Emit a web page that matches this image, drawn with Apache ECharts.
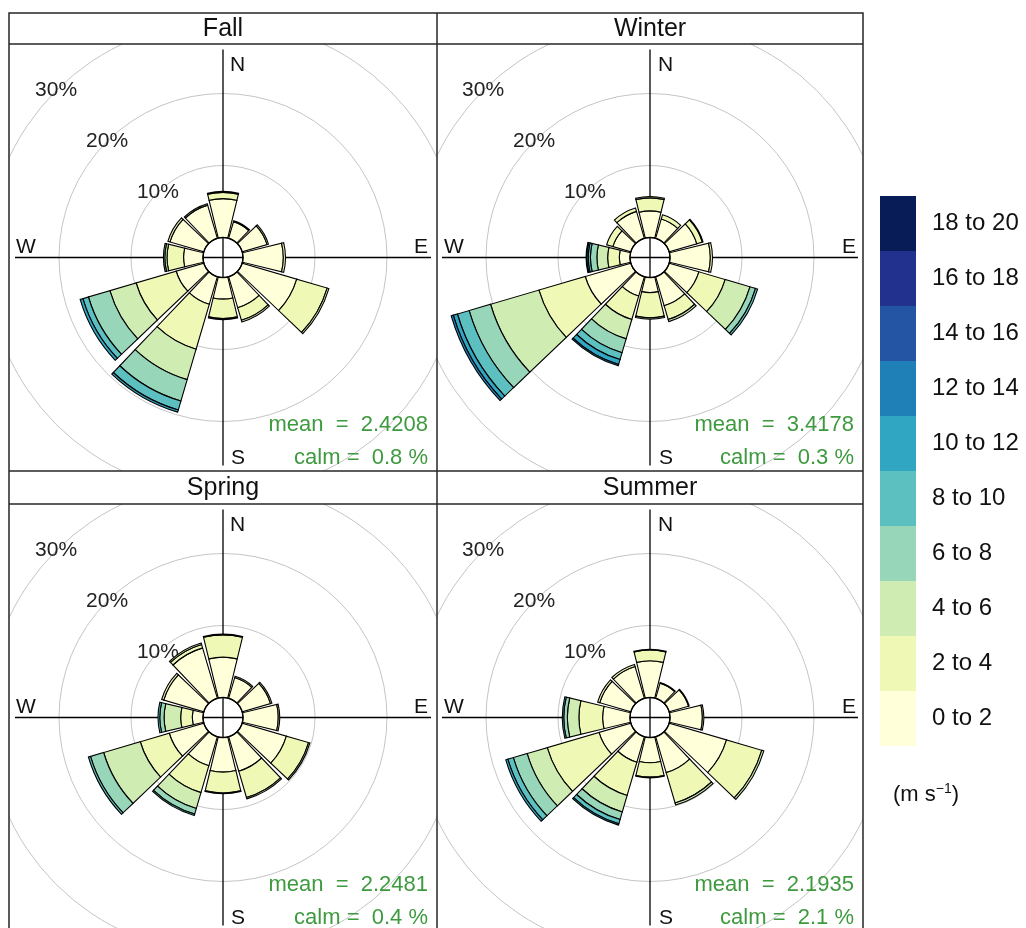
<!DOCTYPE html>
<html>
<head>
<meta charset="utf-8">
<script src="https://cdn.jsdelivr.net/npm/echarts@6/dist/echarts.min.js"></script>
<style>
  html, body { margin: 0; padding: 0; background: #fff; width: 1026px; height: 928px; overflow: hidden; }
  .pane { position: absolute; }
  #frame { left: 0; top: 0; width: 1026px; height: 928px; z-index: 5; pointer-events: none; }
</style>
</head>
<body>
<div id="p0" class="pane" style="left:9px;top:44px;width:428px;height:427px"></div>
<div id="p1" class="pane" style="left:437px;top:44px;width:426px;height:427px"></div>
<div id="p2" class="pane" style="left:9px;top:504px;width:428px;height:427px"></div>
<div id="p3" class="pane" style="left:437px;top:504px;width:426px;height:427px"></div>
<div id="frame" class="pane"></div>
<script>
// Wind direction sectors (degrees clockwise from north), 30° each
const DIRECTIONS = ['0', '30', '60', '90', '120', '150', '180', '210', '240', '270', '300', '330'];
// Wind speed classes (m/s)
const SPEED_BINS = ['0 to 2', '2 to 4', '4 to 6', '6 to 8', '8 to 10',
                    '10 to 12', '12 to 14', '14 to 16', '16 to 18', '18 to 20'];
// YlGnBu ramp, one colour per speed class
const BIN_COLORS = ['#FFFFD9', '#EFF9B5', '#CFECB3', '#97D6B9', '#5DC0C0',
                    '#31A6C2', '#1F80B8', '#2355A4', '#22318D', '#081D58'];
// Percentage ticks on the frequency circles
const RADIAL_TICKS = [10, 20, 30];

const SEASONS = ['Fall', 'Winter', 'Spring', 'Summer'];
const MEANS = ['2.4208', '3.4178', '2.2481', '2.1935'];
const CALMS = ['0.8', '0.3', '0.4', '2.1'];

// Frequency (%) per direction sector, split by speed class (0-2, 2-4, 4-6, ...)
const fallRose = [
  [5.4, 0.85, 0.15],
  [2.4, 0.15],
  [3.6, 0.2],
  [5.6, 0.3],
  [7.9, 4.4, 0.25],
  [4.5, 1.8, 0.25],
  [3.0, 2.7, 0.15],
  [4.0, 6.5, 4.4, 3.1, 1.3, 0.3],
  [4.0, 5.8, 3.8, 3.1, 0.8, 0.4],
  [2.7, 2.3, 0.3, 0.2],
  [4.9, 0.3],
  [4.8, 0.2]
];
const winterRose = [
  [3.7, 1.8, 0.2],
  [2.8, 0.6],
  [4.0, 0.8, 0.1],
  [5.6, 0.3],
  [4.3, 3.8, 3.6, 0.8, 0.3],
  [4.2, 2.0, 0.3],
  [2.1, 3.5, 0.2],
  [2.8, 3.4, 2.8, 2.0, 1.0, 0.7, 0.2],
  [6.6, 6.7, 7.0, 3.1, 1.7, 0.6, 0.3],
  [1.5, 1.6, 1.5, 0.9, 0.3, 0.2, 0.1],
  [2.6, 0.9],
  [3.9, 0.5]
];
const springRose = [
  [5.6, 3.1, 0.1],
  [3.0, 0.2],
  [4.1, 0.2],
  [4.9, 0.2],
  [6.4, 3.2, 0.2],
  [5.0, 3.8, 0.2],
  [4.8, 2.9, 0.1],
  [4.2, 3.9, 2.3, 0.8, 0.2],
  [5.0, 4.2, 5.3, 1.9, 0.3],
  [1.5, 1.6, 2.3, 0.6, 0.25],
  [5.8, 0.3],
  [7.3, 0.5, 0.2]
];
const summerRose = [
  [5.1, 1.5, 0.1],
  [2.2, 0.1],
  [2.8, 0.1],
  [4.5, 0.2],
  [8.3, 5.1, 0.3],
  [5.2, 4.4, 0.3],
  [3.5, 2.0, 0.1],
  [3.7, 4.8, 2.4, 1.1, 0.6, 0.2],
  [4.6, 7.5, 2.9, 2.0, 0.8, 0.3],
  [3.8, 3.3, 1.6, 0.5, 0.2],
  [4.5, 0.3],
  [4.6, 0.3]
];
const ROSES = [fallRose, winterRose, springRose, summerRose];

const FONT = '"Liberation Sans", Arial, Helvetica, sans-serif';
const HOLE = 20;       // px radius of the empty centre
const OUTER = 236;     // px radius of the 30% circle
const CROSS = 208;     // px half-length of the compass cross

// zlevel 0: cross, circles, % labels; zlevel 1: petals, centre rim and annotations
function roseOption(i) {
  const rose = ROSES[i];
  const series = SPEED_BINS.map((name, b) => ({
    name: name,
    type: 'bar',
    coordinateSystem: 'polar',
    polarIndex: 2,
    stack: 'rose',
    barCategoryGap: '9%',
    data: rose.map(r => (r[b] ? r[b] : '-')),
    itemStyle: { color: BIN_COLORS[b], borderColor: '#000', borderWidth: 1.1 },
    emphasis: { disabled: true },
    zlevel: 1,
    z: 3
  }));
  const hiddenAxis = { show: false };
  const compass = (text, x, y, align) => ({
    type: 'text', x: x, y: y, zlevel: 1, z: 20,
    style: { text: text, font: '21px ' + FONT, fill: '#111', align: align, verticalAlign: 'middle' }
  });
  return {
    animation: false,
    polar: [
      { center: ['50%', '50%'], radius: [0, CROSS] },
      { center: ['50%', '50%'], radius: [HOLE, OUTER] },
      { center: ['50%', '50%'], radius: [HOLE, OUTER] },
      { center: ['50%', '50%'], radius: [0, HOLE] }
    ],
    angleAxis: [
      // compass cross, beneath the petals
      { polarIndex: 0, type: 'value', min: 0, max: 360, interval: 90, startAngle: 90,
        axisLine: { show: false }, axisTick: { show: false }, axisLabel: { show: false },
        splitLine: { show: true, lineStyle: { color: '#000', width: 1.3 } }, zlevel: 0, z: 1 },
      { polarIndex: 1, type: 'value', min: 0, max: 360, startAngle: 135, show: false },
      { polarIndex: 2, type: 'category', data: DIRECTIONS, startAngle: 105, show: false },
      // rim of the empty centre
      { polarIndex: 3, type: 'value', min: 0, max: 360, startAngle: 90,
        axisLine: { show: true, lineStyle: { color: '#000', width: 1.4 } },
        axisTick: { show: false }, axisLabel: { show: false }, splitLine: { show: false }, zlevel: 1, z: 10 }
    ],
    radiusAxis: [
      Object.assign({ polarIndex: 0, type: 'value', min: 0, max: 1 }, hiddenAxis),
      { polarIndex: 1, type: 'value', min: 0, max: RADIAL_TICKS[RADIAL_TICKS.length - 1], interval: 10,
        axisLine: { show: false }, axisTick: { show: false },
        axisLabel: { show: true, showMinLabel: false, margin: 0, align: 'center', verticalAlign: 'middle',
                     formatter: v => (RADIAL_TICKS.indexOf(v) >= 0 ? v + '%' : ''),
                     fontSize: 21, fontFamily: FONT, color: '#222' },
        splitLine: { show: true, lineStyle: { color: '#c4c4c4', width: 1 } }, zlevel: 0, z: 0 },
      Object.assign({ polarIndex: 2, type: 'value', min: 0, max: RADIAL_TICKS[RADIAL_TICKS.length - 1] }, hiddenAxis),
      Object.assign({ polarIndex: 3, type: 'value', min: 0, max: 1 }, hiddenAxis)
    ],
    series: series,
    graphic: [
      compass('N', 221, 21, 'left'),
      compass('S', 222, 414, 'left'),
      compass('W', 7, 203, 'left'),
      compass('E', 419, 203, 'right'),
      { type: 'text', right: 9, top: 370, zlevel: 1, z: 20,
        style: { text: 'mean  =  ' + MEANS[i], font: '22px ' + FONT, fill: '#3e9a3e' } },
      { type: 'text', right: 9, top: 403, zlevel: 1, z: 20,
        style: { text: 'calm =  ' + CALMS[i] + ' %', font: '22px ' + FONT, fill: '#3e9a3e' } }
    ]
  };
}

for (let i = 0; i < 4; i++) {
  const chart = echarts.init(document.getElementById('p' + i), null, { renderer: 'canvas' });
  chart.setOption(roseOption(i));
}

// Panel frames, strip titles and the speed-class key
const frame = echarts.init(document.getElementById('frame'), null, { renderer: 'canvas' });
const LINE = { stroke: '#262626', lineWidth: 1.5 };
const frameGraphics = [
  { type: 'rect', shape: { x: 9, y: 13, width: 854, height: 940 }, style: Object.assign({ fill: 'none' }, LINE) },
  { type: 'line', shape: { x1: 9, y1: 44, x2: 863, y2: 44 }, style: LINE },
  { type: 'line', shape: { x1: 9, y1: 471, x2: 863, y2: 471 }, style: LINE },
  { type: 'line', shape: { x1: 9, y1: 504, x2: 863, y2: 504 }, style: LINE },
  { type: 'line', shape: { x1: 437, y1: 13, x2: 437, y2: 940 }, style: LINE }
];
const stripCentres = [[223, 29], [650, 29], [223, 488], [650, 488]];
SEASONS.forEach((s, i) => {
  frameGraphics.push({ type: 'text', x: stripCentres[i][0], y: stripCentres[i][1],
    style: { text: s, font: '25px ' + FONT, fill: '#111', align: 'center', verticalAlign: 'middle' } });
});
const KEY_TOP = 196, KEY_H = 55;
SPEED_BINS.slice().reverse().forEach((label, k) => {
  const b = SPEED_BINS.length - 1 - k;
  frameGraphics.push({ type: 'rect', shape: { x: 880, y: KEY_TOP + k * KEY_H, width: 36, height: KEY_H },
    style: { fill: BIN_COLORS[b], stroke: null } });
  frameGraphics.push({ type: 'text', x: 932, y: KEY_TOP + k * KEY_H + KEY_H / 2,
    style: { text: label, font: '24px ' + FONT, fill: '#111', align: 'left', verticalAlign: 'middle' } });
});
frameGraphics.push({ type: 'text', x: 893, y: 795,
  style: { text: '(m s{sup|\u22121})', font: '22px ' + FONT, fill: '#111', align: 'left', verticalAlign: 'middle',
           rich: { sup: { fontSize: 14, fontFamily: FONT, verticalAlign: 'top', padding: [0, 0, 12, 0] } } } });
frame.setOption({ animation: false, graphic: frameGraphics });
</script>
</body>
</html>
